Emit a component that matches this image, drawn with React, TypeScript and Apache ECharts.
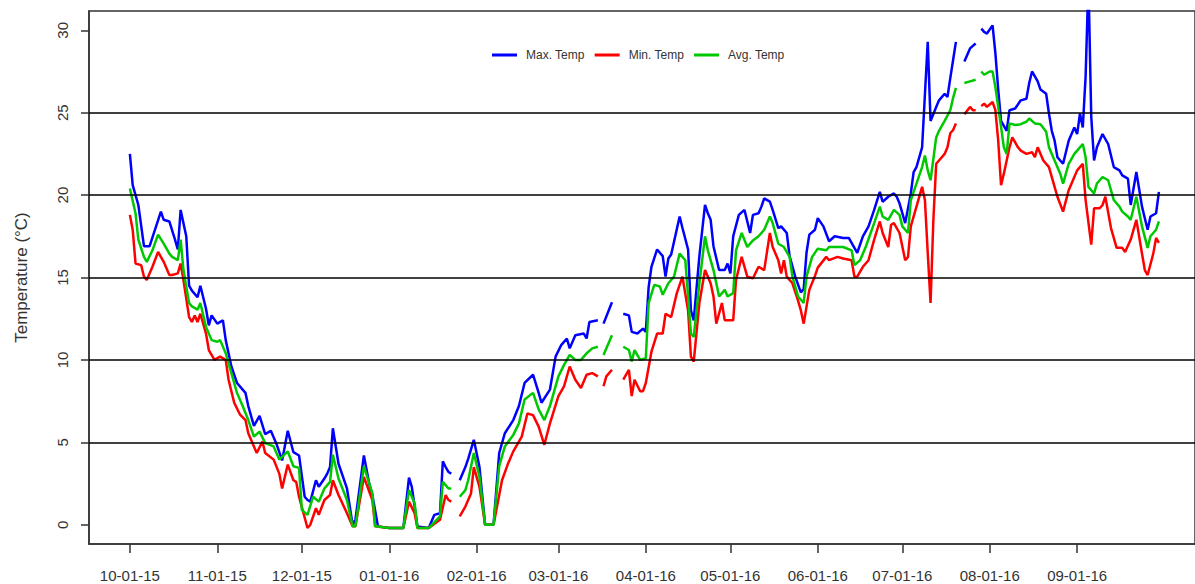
import React, { useEffect, useRef } from "react";
import * as echarts from "echarts";

// Day offsets counted from 2015-10-01
const tickDays = [0, 31, 61, 92, 123, 152, 183, 213, 244, 274, 305, 336];
const tickLabels = [
  "10-01-15", "11-01-15", "12-01-15", "01-01-16", "02-01-16", "03-01-16",
  "04-01-16", "05-01-16", "06-01-16", "07-01-16", "08-01-16", "09-01-16",
];
const yTicks = [0, 5, 10, 15, 20, 25, 30];
const gridLines = [5, 10, 15, 20, 25];

const maxDays = [0,1,3,5,7,11,12,14,16,17,18,20,21,22,24,25,27,28,29,31,33,34,36,38,41,42,44,46,48,50,52,54,56,58,60,62,63,64,66,67,69,70,71,72,74,76,77,79,80,83,85,86,88,92,97,99,100,102,106,108,110,111,112,113,114,115,116,117,119,120,122,124,126,129,131,133,136,138,140,143,145,146,149,151,153,155,156,158,161,162,163,166,167,168,171,172,175,177,178,180,182,183,184,185,187,189,190,191,192,195,196,198,199,200,202,204,205,206,207,209,211,212,213,214,216,218,220,221,223,224,225,227,228,230,231,233,234,236,238,239,240,241,243,244,246,248,250,253,255,256,258,260,262,264,266,267,269,271,272,273,275,277,278,279,281,283,284,286,287,289,290,291,292,293,294,296,298,300,301,302,303,304,306,307,308,309,311,312,314,316,318,319,320,322,323,325,326,327,328,329,331,333,335,336,337,338,339,340,341,342,343,345,347,349,351,352,354,355,357,359,361,362,364,365];
const maxTemps = [22.5,20.6,19.4,16.9,16.9,19.0,18.5,18.4,17.3,16.7,19.1,17.5,14.5,14.2,13.8,14.5,13.1,12.1,12.7,12.2,12.4,11.2,9.6,8.6,8.0,7.2,6.0,6.6,5.5,5.7,4.9,3.9,5.7,4.4,4.2,1.7,1.5,1.4,2.7,2.3,2.8,3.1,3.5,5.85,3.7,2.7,2.2,0.0,0.3,4.2,2.4,1.8,-0.1,-0.2,-0.2,2.85,2.3,-0.1,-0.2,0.6,0.7,3.85,3.5,3.2,3.1,null,null,2.7,3.5,4.0,5.15,3.5,0.0,0.0,4.35,5.55,6.35,7.2,8.6,9.1,8.0,7.4,8.2,10.2,10.9,11.3,10.7,11.5,11.6,11.3,12.3,12.4,null,12.2,13.5,null,12.8,12.7,11.7,11.6,11.9,11.7,14.4,15.65,16.7,16.3,15.05,16.15,16.4,18.7,18.0,16.7,13.0,12.4,16.3,19.4,18.9,18.5,16.9,15.45,15.45,15.85,15.25,17.5,18.8,19.1,17.7,18.8,18.9,19.3,19.8,19.6,19.1,18.0,18.1,17.7,16.3,15.05,14.1,14.3,16.5,17.6,17.9,18.6,18.1,17.2,17.5,17.4,17.4,17.1,16.5,17.5,18.1,19.1,20.2,19.6,19.9,20.1,19.9,19.5,18.3,20.1,21.4,21.7,22.9,29.3,24.5,25.35,25.75,26.15,25.95,27.1,28.2,29.3,null,28.1,28.9,29.2,null,30.1,29.9,29.8,30.3,28.6,26.4,24.5,23.9,25.15,25.25,25.75,25.85,26.8,27.5,26.9,26.4,26.15,24.95,23.9,23.3,22.3,21.9,23.3,24.1,23.7,24.95,24.1,27.2,33,24.75,22.1,22.9,23.7,23.1,21.7,21.5,21.2,21.0,19.4,21.4,19.3,17.9,18.7,18.9,20.2];

const minDays = [0,1,2,4,5,6,8,10,12,14,15,17,18,19,21,22,23,24,25,27,28,30,32,34,35,37,39,41,42,44,45,47,48,51,53,54,56,58,59,60,63,64,66,67,69,71,72,74,77,79,80,83,86,87,92,97,99,101,102,106,110,112,113,114,115,116,117,119,121,122,124,126,129,132,134,136,139,141,143,145,147,149,152,154,156,158,160,162,164,166,167,168,169,171,172,175,177,178,179,181,182,183,185,187,189,190,192,194,196,198,199,200,202,204,206,207,208,210,211,214,215,217,219,221,223,225,227,228,230,231,232,233,235,237,238,239,241,243,244,247,248,251,253,256,257,258,260,262,264,266,267,269,270,271,273,275,276,277,279,281,282,283,284,285,286,287,289,290,291,292,293,294,296,298,299,300,301,302,303,304,306,307,308,309,310,312,313,315,316,318,320,321,322,324,326,328,329,331,333,335,336,338,339,341,342,344,345,346,348,350,352,353,355,357,359,360,361,363,364,365];
const minTemps = [18.8,17.9,15.85,15.75,15.05,14.85,15.65,16.55,15.95,15.15,15.15,15.25,15.85,14.85,12.6,12.3,12.7,12.3,12.8,11.6,10.6,10.0,10.2,10.0,8.8,7.4,6.7,6.35,5.55,4.75,4.35,5.05,4.35,3.95,3.1,2.2,3.65,2.7,2.6,1.7,-0.2,0.0,1.0,0.6,1.5,1.8,2.7,1.8,0.7,-0.1,-0.1,2.9,1.5,-0.1,-0.2,-0.2,1.4,0.7,-0.2,-0.2,0.3,1.8,1.5,1.4,null,null,0.5,1.1,1.9,3.5,2.3,0.0,0.0,2.7,3.65,4.45,5.35,6.75,6.65,5.95,4.85,6.15,7.8,8.4,9.6,8.8,8.3,9.1,9.2,9.0,null,8.4,9.0,9.4,null,8.8,9.4,7.8,8.8,8.1,8.1,8.6,10.5,11.6,11.6,12.8,12.6,14.05,15.05,13.0,10.2,9.9,13.45,15.45,14.65,13.85,12.2,13.45,12.4,12.4,14.85,16.25,15.05,14.95,15.65,15.45,17.7,16.85,16.05,15.25,16.05,15.05,14.65,13.6,13.0,12.2,14.25,15.1,15.6,16.25,16.05,16.25,16.15,16.05,15.05,15.05,15.65,16.05,17.3,18.4,17.7,16.85,18.2,18.3,17.7,16.05,16.25,18.1,19.3,20.5,19.7,16.5,13.45,18.5,21.9,22.1,22.5,22.9,23.75,23.95,24.35,null,24.9,25.35,25.15,25.15,null,25.4,25.55,25.35,25.65,25.15,23.3,20.6,21.3,22.9,23.5,22.9,22.7,22.5,22.6,22.3,22.9,22.1,21.7,20.5,19.9,19.0,20.3,21.1,21.5,21.9,19.7,17.0,19.2,19.2,19.4,19.9,18.0,16.8,16.8,16.55,17.3,18.5,16.45,15.45,15.15,16.45,17.4,17.1];

const avgDays = [0,2,3,5,6,8,10,12,14,15,17,18,19,21,22,24,25,27,29,31,32,34,36,38,40,42,44,46,48,51,53,56,58,60,61,63,65,67,69,71,72,74,77,79,80,83,86,87,92,97,99,101,102,106,110,111,112,113,114,115,116,117,119,120,122,124,126,129,131,133,136,138,140,143,145,147,149,152,154,156,158,160,162,164,166,167,168,171,172,175,177,178,179,181,183,184,186,188,189,191,193,195,197,198,199,200,202,204,205,207,209,211,212,214,215,217,219,221,223,225,227,228,230,232,234,235,237,239,240,242,244,247,248,251,253,256,257,259,261,264,266,267,269,271,273,274,276,277,279,281,282,283,284,286,287,289,291,292,293,294,296,298,300,301,302,303,305,306,307,309,310,311,312,314,316,318,319,321,323,325,326,328,330,331,333,335,336,338,339,340,342,343,345,347,349,351,352,354,355,357,359,361,362,364,365];
const avgTemps = [20.4,18.9,17.3,16.25,15.95,16.65,17.6,17.05,16.45,16.25,16.05,17.3,15.45,13.45,13.25,13.05,13.45,12.0,11.2,11.1,11.2,10.4,9.2,8.0,7.2,6.35,5.35,5.65,4.95,4.75,3.95,4.45,3.55,3.45,0.9,0.6,1.7,1.4,2.2,2.6,4.25,2.8,1.5,-0.1,-0.1,3.55,1.9,-0.1,-0.2,-0.2,2.1,1.3,-0.2,-0.2,0.5,2.6,2.4,2.2,2.2,null,null,1.7,2.1,2.7,4.35,2.9,0.0,0.0,3.55,4.75,5.45,6.15,7.6,8.0,7.0,6.35,7.2,9.0,9.7,10.3,10.0,10.0,10.4,10.7,10.8,null,10.3,11.5,null,10.8,10.6,9.9,10.6,10.0,10.1,13.45,14.55,14.45,13.95,14.65,15.05,16.45,16.05,13.85,11.6,11.4,14.65,17.5,16.65,15.45,13.85,14.25,13.85,14.05,16.65,17.7,16.85,17.25,17.5,17.9,18.7,18.3,17.05,16.85,16.25,15.05,13.85,13.45,15.05,16.25,16.75,16.65,16.85,16.85,16.85,16.65,15.75,16.05,16.85,18.3,19.3,18.7,18.5,19.1,18.8,18.1,17.7,19.7,20.7,21.7,22.4,21.5,20.9,23.5,23.9,24.5,25.15,25.9,26.5,null,26.8,26.9,27.0,null,27.5,27.3,27.5,27.5,26.55,24.15,22.9,22.5,24.35,24.25,24.3,24.45,24.65,24.35,24.3,23.85,22.9,22.1,21.3,20.7,21.9,22.5,22.7,23.1,22.3,20.5,20.1,20.7,21.1,20.9,19.7,19.3,19.0,18.7,18.5,19.9,18.1,16.8,17.5,17.9,18.4];

const FONT = "Liberation Sans, Arial, sans-serif";
const X_MIN = -14.5;
const X_MAX = 377.8;
const Y_MIN = -1.17;
const Y_MAX = 31.17;

function pairs(days: number[], temps: (number | null)[]) {
  return days.map((d, i) => [d, temps[i] === null ? "-" : temps[i]]);
}

export default function App() {
  const ref = useRef<HTMLDivElement>(null);
  useEffect(() => {
    const chart = echarts.init(ref.current as HTMLDivElement, null, { renderer: "svg" });
    const lineSeries = (name: string, color: string, days: number[], temps: (number | null)[]) => ({
      name,
      type: "line",
      data: pairs(days, temps),
      showSymbol: false,
      symbol: "none",
      connectNulls: false,
      lineStyle: { color, width: 2.5 },
      itemStyle: { color },
      clip: true,
      z: 3,
    });
    const maxS: any = lineSeries("Max. Temp", "#0000ff", maxDays, maxTemps);
    maxS.markLine = {
      silent: true,
      symbol: ["none", "none"],
      label: { show: false },
      lineStyle: { color: "#000", width: 1.5, type: "solid" },
      data: gridLines.map((v) => ({ yAxis: v })),
      animation: false,
    };
    chart.setOption({
      animation: false,
      backgroundColor: "#fff",
      grid: {
        left: 89,
        top: 11,
        right: -2,
        bottom: 40,
        show: true,
        borderColor: "#333",
        borderWidth: 1.5,
        backgroundColor: "transparent",
      },
      legend: {
        left: 487,
        top: 44,
        icon: "rect",
        itemWidth: 25,
        itemHeight: 3,
        itemGap: 10,
        selectedMode: false,
        textStyle: { fontFamily: FONT, fontSize: 12, color: "#333", padding: [0, 0, 0, 4] },
        data: ["Max. Temp", "Min. Temp", "Avg. Temp"],
      },
      xAxis: {
        type: "value",
        min: X_MIN,
        max: X_MAX,
        axisLine: { show: true, onZero: false, lineStyle: { color: "#333", width: 1.5 } },
        axisTick: {
          show: true,
          length: 9,
          customValues: tickDays,
          lineStyle: { color: "#333", width: 1.5 },
        },
        axisLabel: {
          customValues: tickDays,
          formatter: (v: number) => {
            const i = tickDays.indexOf(Math.round(v));
            return i >= 0 ? tickLabels[i] : "";
          },
          fontFamily: FONT,
          fontSize: 15,
          color: "#333",
          margin: 24,
        },
        splitLine: { show: false },
      },
      yAxis: {
        type: "value",
        min: Y_MIN,
        max: Y_MAX,
        name: "Temperature (°C)",
        nameLocation: "middle",
        nameGap: 59,
        nameRotate: 90,
        nameTextStyle: { fontFamily: FONT, fontSize: 17, color: "#333" },
        axisLine: { show: true, onZero: false, lineStyle: { color: "#333", width: 1.5 } },
        axisTick: {
          show: true,
          length: 8,
          customValues: yTicks,
          lineStyle: { color: "#333", width: 1.5 },
        },
        axisLabel: { show: false },
        splitLine: { show: false },
      },
      series: [
        maxS,
        lineSeries("Min. Temp", "#ff0000", minDays, minTemps),
        lineSeries("Avg. Temp", "#00c800", avgDays, avgTemps),
      ],
    });
    // Rotated y tick labels, positioned through the axis scale
    const labels = yTicks.map((v) => {
      const p = chart.convertToPixel({ gridIndex: 0 }, [X_MIN, v]) as number[];
      return {
        type: "group",
        x: p[0] - 27,
        y: p[1],
        rotation: Math.PI / 2,
        silent: true,
        children: [
          {
            type: "text",
            x: 0,
            y: 0,
            style: {
              text: String(v),
              fontFamily: FONT,
              fontSize: 15,
              fill: "#333",
              align: "center",
              verticalAlign: "middle",
            },
          },
        ],
      };
    });
    chart.setOption({ graphic: { elements: labels } });
    return () => chart.dispose();
  }, []);
  return (
    <div
      ref={ref}
      style={{ position: "fixed", left: 0, top: 0, width: 1195, height: 584, background: "#fff" }}
    />
  );
}
